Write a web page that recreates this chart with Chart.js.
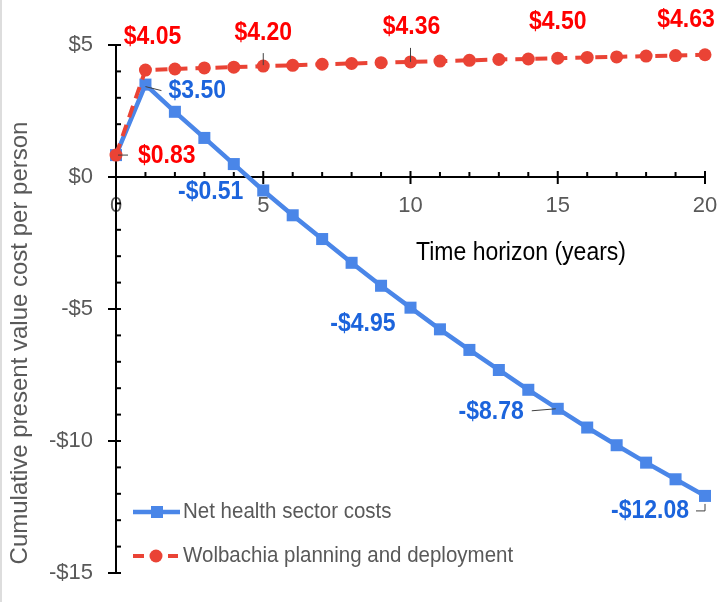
<!DOCTYPE html>
<html>
<head>
<meta charset="utf-8">
<title>Cumulative present value cost per person</title>
<script src="https://cdn.jsdelivr.net/npm/chart.js@4.4.1/dist/chart.umd.min.js"></script>
<style>
    html, body { margin: 0; padding: 0; background: #fff; }
    #wrap { position: relative; width: 719px; height: 602px; }
</style>
</head>
<body>
<div id="wrap"><canvas id="costChart" width="719" height="602"></canvas></div>
<script>
// Datos
const years = [0, 1, 2, 3, 4, 5, 6, 7, 8, 9, 10, 11, 12, 13, 14, 15, 16, 17, 18, 19, 20];
const netHealthCosts = [0.83, 3.50, 2.47, 1.48, 0.49, -0.51, -1.45, -2.35, -3.25, -4.12, -4.95,
    -5.77, -6.55, -7.31, -8.06, -8.78, -9.49, -10.16, -10.82, -11.45, -12.08];
const wolbachiaCosts = [0.83, 4.05, 4.09, 4.13, 4.16, 4.20, 4.23, 4.27, 4.30, 4.33, 4.36,
    4.39, 4.42, 4.45, 4.47, 4.50, 4.53, 4.55, 4.58, 4.60, 4.63];
const seriesNames = ['Net health sector costs', 'Wolbachia planning and deployment'];
const netHealthLabelYears = [1, 5, 10, 15, 20];
const wolbachiaLabelYears = [0, 1, 5, 10, 15, 20];
const xRange = [0, 20];
const yRange = [-15, 5];
const xTitle = 'Time horizon (years)';
const yTitle = 'Cumulative present value cost per person';

// Estilos
const BLUE = '#4a86e8';
const RED = '#ea4335';
const BLUE_TEXT = '#1c64dc';
const RED_TEXT = '#ff0000';
const GREY = '#595959';
const FONT = "'Liberation Sans', Arial, sans-serif";
const TEXT_STRETCH = 1.1; // el texto del original es algo mas alto que ancho

// posicion de cada etiqueta respecto a su punto (px), y linea guia opcional
const netHealthPlacement = {
    1: { dx: 23, dy: 6, align: 'left', leader: [[0, 2], [16, 6]] },
    5: { dx: -20, dy: 2, align: 'right' },
    10: { dx: -15, dy: 16, align: 'right' },
    15: { dx: -34, dy: 3, align: 'right', leader: [[-26, 2], [-2, 0]] },
    20: { dx: -16, dy: 15, align: 'right', leader: [[-9, 15], [0, 15], [0, 8]] }
};
const wolbachiaPlacement = {
    0: { dx: 22, dy: 1, align: 'left', leader: [[2, 0], [12, 0]] },
    1: { dx: 7, dy: -33, align: 'center' },
    5: { dx: 0, dy: -33, align: 'center', leader: [[0, -1], [0, -13]] },
    10: { dx: 1, dy: -35, align: 'center', leader: [[0, 0], [0, -14]] },
    15: { dx: 0, dy: -36, align: 'center' },
    20: { dx: -19, dy: -35, align: 'center' }
};

const money = v => (v < 0 ? '-$' : '$') + Math.abs(v).toFixed(2);
const moneyTick = v => (v < 0 ? '-$' : '$') + Math.abs(v);

function line(ctx, pts) {
    ctx.beginPath();
    ctx.moveTo(pts[0][0], pts[0][1]);
    for (let i = 1; i < pts.length; i++) ctx.lineTo(pts[i][0], pts[i][1]);
    ctx.stroke();
}

// texto un poco estirado en vertical
function tallText(ctx, text, x, y) {
    ctx.save();
    ctx.translate(x, y);
    ctx.scale(1, TEXT_STRETCH);
    ctx.fillText(text, 0, 0);
    ctx.restore();
}

// sin margen extra para las etiquetas de los extremos
function noLabelPadding(s) {
    s.paddingLeft = 0;
    s.paddingRight = 0;
    s.paddingTop = 0;
    s.paddingBottom = 0;
}

// Ejes con marcas mayores y menores
const axesPlugin = {
    id: 'axesPlugin',
    beforeDraw(chart) {
        const ctx = chart.ctx;
        ctx.save();
        ctx.fillStyle = '#dddddd';
        ctx.fillRect(0, 0, 2, chart.height);
        ctx.restore();
    },
    beforeDatasetsDraw(chart) {
        const { ctx, scales: { x, y } } = chart;
        const x0 = x.getPixelForValue(xRange[0]);
        const x1 = x.getPixelForValue(xRange[1]);
        const yTop = y.getPixelForValue(yRange[1]);
        const yBot = y.getPixelForValue(yRange[0]);
        const yZero = y.getPixelForValue(0);
        ctx.save();
        ctx.strokeStyle = '#000';
        ctx.lineWidth = 2;
        line(ctx, [[x0, yTop - 1], [x0, yBot + 1]]);
        for (let v = yRange[0]; v <= yRange[1]; v++) {
            const py = y.getPixelForValue(v);
            if (v % 5 === 0) line(ctx, [[x0 - 8, py], [x0 + 5, py]]);
            else line(ctx, [[x0, py], [x0 + 5, py]]);
        }
        line(ctx, [[x0, yZero], [x1 + 1, yZero]]);
        for (let v = xRange[0]; v <= xRange[1]; v++) {
            const px = x.getPixelForValue(v);
            if (v % 5 === 0) line(ctx, [[px, yZero - 6], [px, yZero + 7]]);
            else line(ctx, [[px, yZero - 5], [px, yZero]]);
        }
        ctx.restore();
    },
    afterDatasetsDraw(chart) {
        const { ctx, scales: { x, y } } = chart;
        const groups = [
            { values: netHealthCosts, at: netHealthLabelYears, place: netHealthPlacement, color: BLUE_TEXT },
            { values: wolbachiaCosts, at: wolbachiaLabelYears, place: wolbachiaPlacement, color: RED_TEXT }
        ];
        ctx.save();
        ctx.font = 'bold 23px ' + FONT;
        ctx.textBaseline = 'middle';
        groups.forEach(g => {
            g.at.forEach(yr => {
                const i = years.indexOf(yr);
                const px = x.getPixelForValue(years[i]);
                const py = y.getPixelForValue(g.values[i]);
                const p = g.place[yr];
                if (p.leader) {
                    ctx.strokeStyle = '#404040';
                    ctx.lineWidth = 1;
                    line(ctx, p.leader.map(([a, b]) => [px + a, py + b]));
                }
                ctx.fillStyle = g.color;
                ctx.textAlign = p.align;
                tallText(ctx, money(g.values[i]), px + p.dx, py + p.dy);
            });
        });
        ctx.restore();
    },
    afterDraw(chart) {
        const ctx = chart.ctx;
        ctx.save();
        // titulos
        ctx.fillStyle = '#000';
        ctx.font = '23px ' + FONT;
        ctx.textAlign = 'center';
        ctx.textBaseline = 'middle';
        tallText(ctx, xTitle, 521, 253);

        ctx.fillStyle = GREY;
        ctx.font = '24px ' + FONT;
        ctx.translate(27, 343);
        ctx.rotate(-Math.PI / 2);
        ctx.textBaseline = 'alphabetic';
        ctx.fillText(yTitle, 0, 0);
        ctx.restore();

        // leyenda
        ctx.save();
        ctx.font = '20.5px ' + FONT;
        ctx.textBaseline = 'middle';
        ctx.textAlign = 'left';
        const lx = 133, ly = [512, 556];
        ctx.strokeStyle = BLUE;
        ctx.lineWidth = 4.5;
        line(ctx, [[lx, ly[0]], [lx + 47, ly[0]]]);
        ctx.fillStyle = BLUE;
        ctx.fillRect(lx + 24 - 6, ly[0] - 6, 12, 12);
        ctx.strokeStyle = RED;
        ctx.lineWidth = 4;
        line(ctx, [[lx, ly[1]], [lx + 11, ly[1]]]);
        line(ctx, [[lx + 35, ly[1]], [lx + 45, ly[1]]]);
        ctx.fillStyle = RED;
        ctx.beginPath();
        ctx.arc(lx + 23, ly[1], 6.5, 0, Math.PI * 2);
        ctx.fill();
        ctx.fillStyle = GREY;
        tallText(ctx, seriesNames[0], 183, ly[0]);
        tallText(ctx, seriesNames[1], 183, ly[1]);
        ctx.restore();
    }
};

const toPoints = arr => years.map((yr, i) => ({ x: yr, y: arr[i] }));

new Chart(document.getElementById('costChart').getContext('2d'), {
    type: 'line',
    data: {
        datasets: [
            {
                label: seriesNames[0],
                data: toPoints(netHealthCosts),
                borderColor: BLUE,
                backgroundColor: BLUE,
                pointBackgroundColor: BLUE,
                pointBorderWidth: 0,
                pointStyle: 'rect',
                pointRadius: 8.5,
                borderWidth: 4.5,
                tension: 0,
                clip: false,
                order: 1
            },
            {
                label: seriesNames[1],
                data: toPoints(wolbachiaCosts),
                borderColor: RED,
                backgroundColor: RED,
                pointBackgroundColor: RED,
                pointBorderWidth: 0,
                pointStyle: 'circle',
                pointRadius: 6.5,
                borderWidth: 4,
                borderDash: [12, 8],
                tension: 0,
                clip: false,
                order: 0
            }
        ]
    },
    options: {
        responsive: false,
        animation: false,
        layout: { padding: { top: 45, right: 14, bottom: 29, left: 0 } },
        plugins: {
            legend: { display: false },
            tooltip: { enabled: false }
        },
        scales: {
            x: {
                type: 'linear',
                position: { y: 0 },
                min: xRange[0],
                max: xRange[1],
                grid: { display: false, drawTicks: false },
                border: { display: false },
                afterFit: s => { noLabelPadding(s); s.height = 0; },
                ticks: {
                    stepSize: 5,
                    autoSkip: false,
                    maxRotation: 0,
                    padding: 16,
                    color: GREY,
                    font: { family: FONT, size: 22 }
                }
            },
            y: {
                type: 'linear',
                min: yRange[0],
                max: yRange[1],
                grid: { display: false, drawTicks: false },
                border: { display: false },
                afterFit: s => { noLabelPadding(s); s.width = 116; },
                ticks: {
                    stepSize: 5,
                    padding: 23,
                    color: GREY,
                    font: { family: FONT, size: 22 },
                    callback: v => moneyTick(v)
                }
            }
        }
    },
    plugins: [axesPlugin]
});
</script>
</body>
</html>
